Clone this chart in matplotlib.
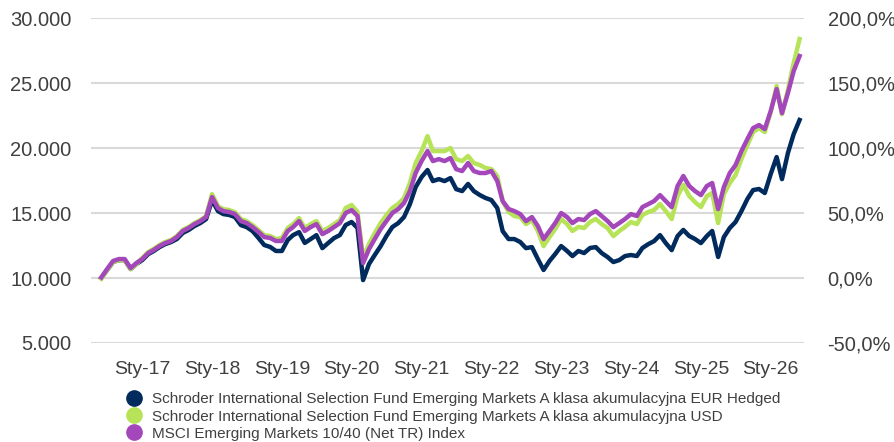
import matplotlib
matplotlib.use("Agg")
import matplotlib.pyplot as plt
from matplotlib.lines import Line2D
from matplotlib.ticker import FuncFormatter
import pandas as pd

plt.rcParams["font.family"] = ["Liberation Sans", "DejaVu Sans"]

# monthly observations, Jun 2016 .. Jun 2026
dates = pd.date_range("2016-06-01", periods=121, freq="MS")

eur_hedged = [
    10000, 10610, 11230, 11380, 11380, 10690, 11070, 11380, 11840, 12070,
    12380, 12610, 12770, 13000, 13470, 13700, 14000, 14230, 14540, 16000,
    15150, 14920, 14850, 14690, 14070, 13920, 13610, 13080, 12540, 12390,
    12080, 12080, 12930, 13300, 13530, 12700, 13000, 13300, 12300, 12700,
    13070, 13310, 14080, 14310, 13850, 9840, 11080, 11770, 12460, 13230,
    13920, 14230, 14690, 15690, 17000, 17770, 18310, 17460, 17610, 17460,
    17690, 16840, 16690, 17240, 16690, 16390, 16160, 16000, 15380, 13610,
    13000, 13000, 12770, 12300, 12380, 11460, 10620, 11310, 11850, 12460,
    12080, 11690, 12080, 11920, 12310, 12380, 11920, 11610, 11230, 11380,
    11690, 11770, 11690, 12310, 12610, 12840, 13300, 12690, 12150, 13230,
    13700, 13230, 13000, 12690, 13230, 13620, 11620, 13150, 13850, 14310,
    15150, 16080, 16770, 16850, 16540, 18000, 19310, 17610, 19620, 21070,
    22160,
]

usd = [
    9950, 10610, 11230, 11380, 11380, 10690, 11070, 11540, 12000, 12230,
    12540, 12770, 12930, 13230, 13700, 13930, 14230, 14460, 14770, 16460,
    15530, 15300, 15230, 15070, 14530, 14380, 14070, 13690, 13300, 13230,
    13000, 13080, 13850, 14150, 14610, 13850, 14150, 14380, 13610, 13850,
    14150, 14460, 15390, 15620, 15080, 11540, 12620, 13460, 14230, 14840,
    15390, 15700, 16150, 17310, 18850, 19770, 20920, 19770, 19770, 19770,
    20000, 19150, 19000, 19390, 18850, 18700, 18470, 18380, 17850, 15920,
    15080, 14770, 14690, 14150, 14460, 13620, 12460, 13160, 13770, 14540,
    14150, 13620, 13930, 13850, 14310, 14540, 14150, 13840, 13230, 13620,
    13930, 14310, 14150, 14850, 15080, 15230, 15690, 15150, 14540, 16310,
    17160, 16310, 15840, 15460, 16310, 16540, 14230, 16460, 17310, 17920,
    19160, 20230, 21230, 21540, 21230, 22770, 24770, 22610, 24460, 26540,
    28390,
]

msci = [
    10050, 10690, 11310, 11460, 11460, 10770, 11150, 11460, 11920, 12150,
    12460, 12690, 12850, 13150, 13620, 13850, 14150, 14380, 14690, 16230,
    15380, 15150, 15080, 14920, 14380, 14230, 13920, 13540, 13150, 13080,
    12850, 12850, 13620, 13920, 14380, 13620, 13920, 14150, 13380, 13620,
    13920, 14230, 15000, 15230, 14770, 11150, 12230, 13000, 13770, 14380,
    15000, 15310, 15770, 16690, 18080, 19000, 19770, 19000, 19150, 19000,
    19230, 18380, 18230, 18850, 18230, 18080, 18080, 18230, 17460, 15920,
    15310, 15150, 14920, 14380, 14690, 14000, 13000, 13620, 14230, 15000,
    14690, 14230, 14540, 14460, 14920, 15150, 14770, 14380, 13920, 14230,
    14540, 14920, 14770, 15460, 15690, 15920, 16380, 15920, 15460, 17080,
    17850, 17080, 16690, 16380, 17080, 17310, 15310, 17000, 18080, 18690,
    19770, 20690, 21540, 21770, 21460, 22850, 24540, 22690, 24230, 25920,
    27080,
]

labels = [
    "Schroder International Selection Fund Emerging Markets A klasa akumulacyjna EUR Hedged",
    "Schroder International Selection Fund Emerging Markets A klasa akumulacyjna USD",
    "MSCI Emerging Markets 10/40 (Net TR) Index",
]
colors = ["#002B5C", "#B6E358", "#A347BA"]
tick_years = list(range(2017, 2027))

fig = plt.figure(figsize=(8.95, 4.42), dpi=100)
ax = fig.add_axes([0.1017, 0.224, 0.7966, 0.735])

for series, c in zip([eur_hedged, usd, msci], colors):
    ax.plot(dates, series, color=c, lw=3.2, solid_joinstyle="round")

ax.set_ylim(5000, 30000)
ax.set_yticks(range(5000, 30001, 5000))
ax.yaxis.set_major_formatter(FuncFormatter(lambda v, p: f"{v:,.0f}".replace(",", ".")))
ax.set_xlim(pd.Timestamp("2016-04-08"), pd.Timestamp("2026-06-24"))
ax.set_xticks([pd.Timestamp(f"{y}-01-01") for y in tick_years])
ax.set_xticklabels([f"Sty-{y % 100:02d}" for y in tick_years])
ax.grid(axis="y", color="#D9D9D9", lw=1.5)
ax.set_axisbelow(True)
for s in ax.spines.values():
    s.set_visible(False)
ax.tick_params(length=0, labelsize=14.5, colors="#404040")
ax.tick_params(axis="y", pad=14)
ax.tick_params(axis="x", labelsize=14, pad=13)

ax2 = ax.twinx()
ax2.set_ylim(-0.5, 2.0)
ax2.set_yticks([-0.5, 0, 0.5, 1.0, 1.5, 2.0])
ax2.yaxis.set_major_formatter(FuncFormatter(lambda v, p: f"{v * 100:.1f}%".replace(".", ",")))
for s in ax2.spines.values():
    s.set_visible(False)
ax2.tick_params(length=0, labelsize=14.5, colors="#404040", pad=17)

handles = [Line2D([], [], ls="", marker="o", ms=11, color=c) for c in colors]
fig.legend(handles, labels, loc="upper left", bbox_to_anchor=(0.141, 0.112),
           frameon=False, fontsize=11, handletextpad=0.7, labelspacing=0.2,
           handlelength=1.0, borderaxespad=0, borderpad=0, labelcolor="#404040")

fig.savefig("out.png", dpi=100)
